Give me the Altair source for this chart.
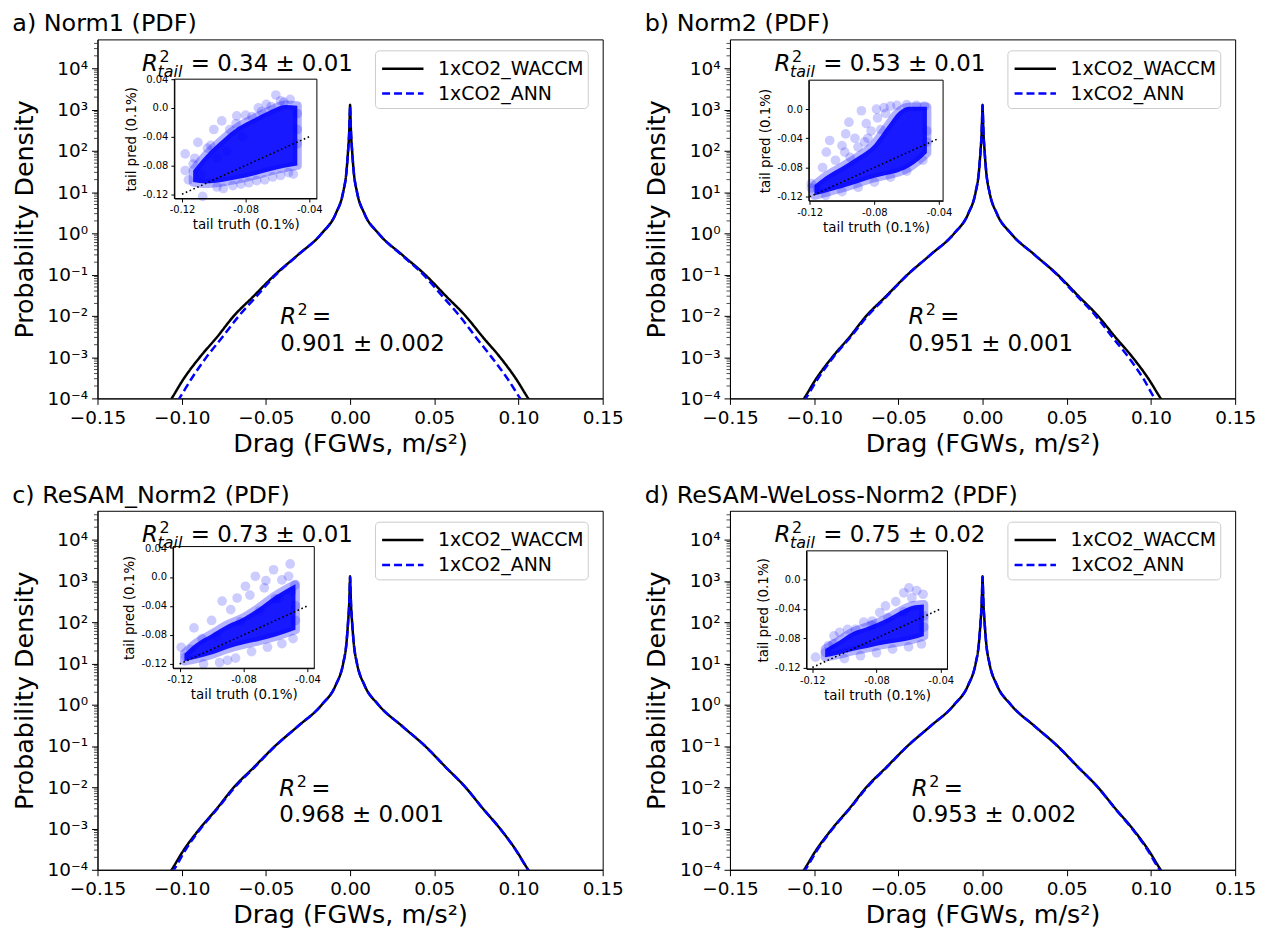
import altair as alt
import pandas as pd

FONT = "DejaVu Sans"
BLUE = "#0000ff"
SERIES = ["1xCO2_WACCM", "1xCO2_ANN"]

titles = ["a) Norm1 (PDF)", "b) Norm2 (PDF)", "c) ReSAM_Norm2 (PDF)", "d) ReSAM-WeLoss-Norm2 (PDF)"]
r2_tail_text = ["= 0.34 ± 0.01", "= 0.53 ± 0.01", "= 0.73 ± 0.01", "= 0.75 ± 0.02"]
r2_text = ["0.901 ± 0.002", "0.951 ± 0.001", "0.968 ± 0.001", "0.953 ± 0.002"]
r2_x = [-0.0415, -0.044, -0.042, -0.042]
r2_y = [6.2e-3, 6.2e-3, 6.2e-3, 6.2e-3]
tail_x = [-0.1235, -0.1235, -0.1235, -0.1235]
tail_y = [8.6e3, 8.6e3, 8.6e3, 8.6e3]

x_ticks = [-0.15, -0.10, -0.05, 0.0, 0.05, 0.10, 0.15]
y_ticks = [1e-4, 1e-3, 1e-2, 1e-1, 1, 10, 100, 1e3, 1e4]

# PDF curve: |x| at which the density reaches each level
pdf_levels = [5e-5, 1e-4, 3e-4, 1e-3, 3e-3, 1e-2, 3e-2, 0.1, 0.3, 1, 3, 10, 30, 100, 300, 1000]
peak_waccm = 1300
peak_ann = 1250
waccm_left = [0.1112, 0.1060, 0.0988, 0.0892, 0.0792, 0.0690, 0.0573, 0.0445, 0.0310, 0.0168, 0.0085, 0.0041, 0.0022, 0.0012, 0.0005, 0.0001]
waccm_right = [0.1110, 0.1058, 0.0985, 0.0890, 0.0790, 0.0685, 0.0570, 0.0445, 0.0310, 0.0168, 0.0085, 0.0041, 0.0022, 0.0012, 0.0005, 0.0001]
ann_left = [
    [0.1065, 0.1014, 0.0942, 0.0853, 0.0760, 0.0660, 0.0555, 0.0440, 0.0308, 0.0168, 0.0085, 0.0041, 0.0022, 0.0012, 0.0005, 0.0001],
    [0.1102, 0.1050, 0.0978, 0.0886, 0.0786, 0.0682, 0.0568, 0.0445, 0.0310, 0.0168, 0.0085, 0.0041, 0.0022, 0.0012, 0.0005, 0.0001],
    [0.1098, 0.1046, 0.0978, 0.0887, 0.0788, 0.0684, 0.0569, 0.0444, 0.0310, 0.0168, 0.0085, 0.0041, 0.0022, 0.0012, 0.0005, 0.0001],
    [0.1104, 0.1052, 0.0982, 0.0889, 0.0789, 0.0685, 0.0570, 0.0445, 0.0310, 0.0168, 0.0085, 0.0041, 0.0022, 0.0012, 0.0005, 0.0001],
]
ann_right = [
    [0.1060, 0.1010, 0.0935, 0.0840, 0.0748, 0.0650, 0.0548, 0.0435, 0.0305, 0.0168, 0.0085, 0.0041, 0.0022, 0.0012, 0.0005, 0.0001],
    [0.1075, 0.1022, 0.0955, 0.0866, 0.0772, 0.0672, 0.0562, 0.0442, 0.0309, 0.0168, 0.0085, 0.0041, 0.0022, 0.0012, 0.0005, 0.0001],
    [0.1108, 0.1056, 0.0984, 0.0890, 0.0790, 0.0685, 0.0570, 0.0445, 0.0310, 0.0168, 0.0085, 0.0041, 0.0022, 0.0012, 0.0005, 0.0001],
    [0.1100, 0.1050, 0.0980, 0.0887, 0.0788, 0.0684, 0.0569, 0.0444, 0.0310, 0.0168, 0.0085, 0.0041, 0.0022, 0.0012, 0.0005, 0.0001],
]

# inset scatter: dense core band (x, lower, upper) and sparse outliers / edge points
core_x = [
    [-0.113, -0.105, -0.095, -0.085, -0.075, -0.065, -0.055, -0.0475],
    [-0.117, -0.110, -0.100, -0.090, -0.080, -0.072, -0.065, -0.058, -0.0475],
    [-0.117, -0.110, -0.100, -0.090, -0.080, -0.070, -0.060, -0.0475],
    [-0.112, -0.105, -0.095, -0.085, -0.075, -0.065, -0.058, -0.0505],
]
core_lo = [
    [-0.103, -0.105, -0.103, -0.099, -0.094, -0.088, -0.083, -0.080],
    [-0.118, -0.114, -0.108, -0.101, -0.094, -0.090, -0.086, -0.079, -0.060],
    [-0.116, -0.113, -0.107, -0.099, -0.093, -0.088, -0.082, -0.073],
    [-0.106, -0.103, -0.0975, -0.093, -0.0885, -0.085, -0.082, -0.077],
]
core_hi = [
    [-0.087, -0.066, -0.045, -0.027, -0.015, -0.004, 0.004, 0.003],
    [-0.104, -0.092, -0.079, -0.065, -0.048, -0.024, -0.004, 0.003, 0.003],
    [-0.106, -0.092, -0.079, -0.066, -0.056, -0.042, -0.026, -0.010],
    [-0.095, -0.086, -0.072, -0.064, -0.055, -0.043, -0.036, -0.034],
]
out_x = [
    [-0.061, -0.118, -0.118, -0.116, -0.107, -0.110, -0.095, -0.0856, -0.080, -0.067, -0.072, -0.100, -0.104, -0.112,
     -0.108, -0.098, -0.088, -0.078, -0.068, -0.058, -0.050, -0.0475, -0.052, -0.058, -0.090, -0.092, -0.098, -0.082,
     -0.064, -0.056, -0.070, -0.076, -0.086, -0.102, -0.113, -0.094, -0.083, -0.073, -0.063, -0.053, -0.0475, -0.0475],
    [-0.1076, -0.1097, -0.0957, -0.088, -0.0787, -0.0977, -0.0983, -0.0901, -0.119, -0.119, -0.085, -0.082, -0.078, -0.074,
     -0.070, -0.104, -0.112, -0.092, -0.086, -0.100, -0.060, -0.070, -0.080, -0.090, -0.100, -0.110, -0.050, -0.076,
     -0.066, -0.060, -0.054, -0.049, -0.073, -0.095, -0.115, -0.084, -0.0475, -0.0475],
    [-0.0508, -0.0612, -0.0726, -0.0788, -0.0934, -0.084, -0.111, -0.119, -0.0518, -0.056, -0.067, -0.076, -0.066,
     -0.088, -0.100, -0.106, -0.116, -0.105, -0.095, -0.085, -0.075, -0.065, -0.056, -0.049, -0.050, -0.060,
     -0.113, -0.097, -0.082, -0.070, -0.058, -0.048, -0.090, -0.0475, -0.0475],
    [-0.0598, -0.063, -0.0744, -0.0827, -0.1065, -0.1117, -0.118, -0.058, -0.068, -0.078, -0.088, -0.098, -0.103,
     -0.110, -0.100, -0.090, -0.080, -0.070, -0.060, -0.052, -0.051, -0.055, -0.107, -0.093, -0.083, -0.073,
     -0.063, -0.0505, -0.0505],
]
out_y = [
    [0.018, -0.064, -0.087, -0.100, -0.123, -0.048, -0.018, -0.011, -0.010, 0.005, 0.0, -0.030, -0.056, -0.070,
     -0.092, -0.110, -0.108, -0.104, -0.100, -0.094, -0.092, -0.008, 0.012, 0.010, -0.030, -0.060, -0.070, -0.040,
     0.002, 0.008, -0.005, -0.012, -0.022, -0.052, -0.078, -0.112, -0.106, -0.101, -0.096, -0.090, -0.050, -0.030],
    [-0.043, -0.059, -0.018, -0.0023, 0.0, -0.034, -0.059, -0.052, -0.102, -0.108, -0.020, -0.030, -0.012, 0.002,
     0.004, -0.070, -0.080, -0.040, -0.045, -0.050, -0.085, -0.093, -0.100, -0.107, -0.113, -0.118, -0.070, -0.028,
     0.005, 0.006, 0.005, 0.004, -0.006, -0.066, -0.110, -0.040, -0.030, -0.045],
    [0.018, 0.010, 0.001, -0.0128, -0.0333, -0.029, -0.0703, -0.097, 0.001, -0.004, -0.015, -0.025, -0.005,
     -0.045, -0.060, -0.085, -0.110, -0.120, -0.118, -0.112, -0.103, -0.097, -0.092, -0.085, -0.020, -0.030,
     -0.100, -0.082, -0.062, -0.047, -0.030, -0.012, -0.115, -0.040, -0.060],
    [-0.0113, -0.018, -0.036, -0.0566, -0.0769, -0.0995, -0.106, -0.025, -0.030, -0.045, -0.058, -0.068, -0.072,
     -0.090, -0.108, -0.104, -0.100, -0.095, -0.092, -0.088, -0.020, -0.015, -0.088, -0.068, -0.062, -0.052,
     -0.044, -0.050, -0.065],
]
diag = [-0.12, -0.04]

# layout constants (pixels inside each panel's plot area)
W, H = 508, 361
inset_px = [[77.3, 220.6], [79.3, 214.3], [76.0, 218.0], [77.0, 218.7]]
inset_py = [[40.0, 160.0], [41.0, 162.3], [36.0, 158.3], [40.3, 159.0]]
inset_xdom = [[-0.1248, -0.0352], [-0.1205, -0.0375], [-0.1241, -0.0357], [-0.1236, -0.0358]]
inset_ydom = [[-0.126, 0.04], [-0.1255, 0.0395], [-0.1259, 0.042], [-0.122, 0.0393]]

minor_ticks = [m * 10.0 ** k for k in range(-4, 5) for m in range(2, 10) if m * 10.0 ** k < 5e4]

SUP = "['⁻⁴','⁻³','⁻²','⁻¹','⁰','¹','²','³','⁴'][round(log(datum.value)/LN10)+4]"
INSET_LBL = "datum.value == 0 ? '0.0' : (datum.value < 0 ? '-' : '') + format(abs(datum.value), '.2f')"


def curve_df(left, right, peak, name):
    xs, ys = [], []
    for v, p in zip(left, pdf_levels):
        xs.append(-v); ys.append(p)
    xs.append(0.0); ys.append(peak)
    for v, p in reversed(list(zip(right, pdf_levels))):
        xs.append(v); ys.append(p)
    return pd.DataFrame({"x": xs, "y": ys, "series": name})


def panel(i):
    xscale = alt.Scale(domain=[-0.15, 0.15], nice=False, zero=False)
    yscale = alt.Scale(type="log", domain=[1e-4, 5e4], nice=False)
    xaxis = alt.Axis(values=x_ticks, format=".2f", title="Drag (FGWs, m/s²)", labelFontSize=18.5,
                     titleFontSize=25.5, tickSize=6, labelPadding=4, titlePadding=5, labelFlush=False,
                     labelOverlap=False, grid=False, titleFontWeight="normal")
    yaxis = alt.Axis(values=y_ticks, labelExpr="'10' + " + SUP, title="Probability Density",
                     labelFontSize=18.5, titleFontSize=25.5, tickSize=6, labelPadding=4, titlePadding=10,
                     labelFlush=False, labelOverlap=False, grid=False, titleFontWeight="normal")
    X = alt.X("x:Q", scale=xscale, axis=xaxis)
    Y = alt.Y("y:Q", scale=yscale, axis=yaxis)

    df = pd.concat([curve_df(waccm_left, waccm_right, peak_waccm, SERIES[0]),
                    curve_df(ann_left[i], ann_right[i], peak_ann, SERIES[1])])
    leg = alt.Legend(orient="none", legendX=279, legendY=11, title=None, labelFontSize=19, labelFont=FONT,
                     labelColor="black", symbolType="M-1.6,0L1.6,0", symbolSize=676, symbolStrokeWidth=2.5,
                     padding=4, symbolOffset=9.5, labelOffset=21, strokeColor="#cccccc", fillColor="white",
                     cornerRadius=4, rowPadding=0)
    lines = alt.Chart(df).mark_line(clip=True, strokeWidth=2.5, interpolate="monotone").encode(
        x=X, y=Y,
        color=alt.Color("series:N", scale=alt.Scale(domain=SERIES, range=["black", BLUE]), legend=leg),
        strokeDash=alt.StrokeDash("series:N", scale=alt.Scale(domain=SERIES, range=[[1, 0], [8, 4]]), legend=leg),
    )

    minor = alt.Chart(pd.DataFrame({"x": [-0.15] * len(minor_ticks), "y": minor_ticks})).mark_tick(
        orient="horizontal", size=3.5, thickness=1, xOffset=-1.75, color="black", clip=False
    ).encode(x=X, y=Y)

    tdf = pd.DataFrame({"x": [tail_x[i]], "y": [tail_y[i]], "t": [r2_tail_text[i]]})
    rdf = pd.DataFrame({"x": [r2_x[i]], "y": [r2_y[i]], "t": [r2_text[i]]})

    def txt(d, text, size, dx=0, dy=0, italic=False, field=False):
        kw = dict(fontSize=size, dx=dx, dy=dy, align="left", baseline="alphabetic", font=FONT, color="black")
        if italic:
            kw["fontStyle"] = "italic"
        if field:
            return alt.Chart(d).mark_text(**kw).encode(x=X, y=Y, text="t:N")
        return alt.Chart(d).mark_text(text=text, **kw).encode(x=X, y=Y)

    texts = [
        txt(tdf, "R", 23, italic=True),
        txt(tdf, "2", 16, dx=17.5, dy=-9),
        txt(tdf, "tail", 16, dx=15.5, dy=6, italic=True),
        txt(tdf, "", 23, dx=49, field=True),
        txt(rdf, "R", 23, italic=True),
        txt(rdf, "2", 16, dx=17.5, dy=-9),
        txt(rdf, "=", 23, dx=32),
        txt(rdf, "", 23, dy=26.6, field=True),
    ]
    main = alt.layer(lines, minor, *texts)

    # inset
    px0, px1 = inset_px[i]
    py0, py1 = inset_py[i]
    ixs = alt.Scale(domain=inset_xdom[i], range=[px0, px1], nice=False, zero=False)
    iys = alt.Scale(domain=inset_ydom[i], range=[py1, py0], nice=False, zero=False)
    ixaxis = alt.Axis(orient="bottom", offset=-(H - py1), values=[-0.12, -0.08, -0.04], labelExpr=INSET_LBL,
                      title="tail truth (0.1%)", labelFontSize=10, titleFontSize=13.5, tickSize=3.5,
                      labelPadding=3, titlePadding=3, labelFlush=False, labelOverlap=False, grid=False,
                      titleFontWeight="normal")
    iyaxis = alt.Axis(orient="left", offset=-px0, values=[0.04, 0.0, -0.04, -0.08, -0.12], labelExpr=INSET_LBL,
                      title="tail pred  (0.1%)", labelFontSize=10, titleFontSize=13.5, tickSize=3.5,
                      labelPadding=3, titlePadding=4, labelFlush=False, labelOverlap=False, grid=False,
                      titleFontWeight="normal")
    IX = alt.X("ix:Q", scale=ixs, axis=ixaxis)
    IY = alt.Y("iy:Q", scale=iys, axis=iyaxis)
    IX2 = alt.X2("ix2:Q")
    IY2 = alt.Y2("iy2:Q")

    core = alt.Chart(pd.DataFrame({"ix": core_x[i], "iy": core_lo[i], "iy2": core_hi[i]})).mark_area(
        color=BLUE, fillOpacity=0.9, stroke=BLUE, strokeOpacity=0.3, strokeWidth=9, strokeJoin="round",
        interpolate="monotone"
    ).encode(x=IX, y=IY, y2=IY2)
    pts = alt.Chart(pd.DataFrame({"ix": out_x[i], "iy": out_y[i]})).mark_circle(
        color=BLUE, opacity=0.2, size=95
    ).encode(x=IX, y=IY)
    dline = alt.Chart(pd.DataFrame({"ix": diag, "iy": diag})).mark_line(
        color="black", strokeWidth=1.6, strokeDash=[1.6, 2.6]
    ).encode(x=IX, y=IY)
    frame = alt.Chart(pd.DataFrame({"ix": [inset_xdom[i][0]], "ix2": [inset_xdom[i][1]],
                                    "iy": [inset_ydom[i][0]], "iy2": [inset_ydom[i][1]]})).mark_rect(
        fillOpacity=0, stroke="black", strokeWidth=1
    ).encode(x=IX, x2=IX2, y=IY, y2=IY2)
    inset = alt.layer(core, pts, dline, frame)

    return alt.layer(main, inset).resolve_scale(x="independent", y="independent").properties(
        width=W, height=H,
        title=alt.TitleParams(titles[i], anchor="start", fontSize=24, font=FONT, fontWeight="normal",
                              color="black", offset=-16, baseline="alphabetic"),
    )


chart = alt.concat(*[panel(i) for i in range(4)], columns=2,
                   spacing=alt.RowColnumber(row=113, column=128)).properties(
    bounds="flush", padding={"left": 3, "top": 1, "right": 5, "bottom": 0}
).resolve_scale(
    color="independent", strokeDash="independent", x="independent", y="independent"
).configure_axis(
    grid=False, labelFont=FONT, titleFont=FONT, titleFontWeight="normal", labelColor="black",
    titleColor="black", domainColor="black", tickColor="black", domainWidth=1, tickWidth=1
).configure_view(stroke="black", strokeWidth=1)

chart.save("out.html", embed_options={"renderer": "svg", "actions": False})
